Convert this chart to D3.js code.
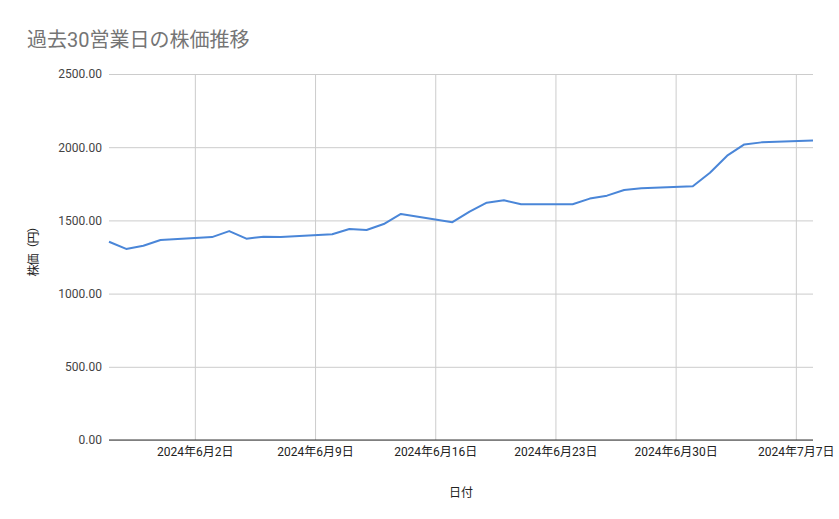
<!DOCTYPE html>
<html>
<head>
<meta charset="utf-8">
<script src="https://cdn.jsdelivr.net/npm/d3@7"></script>
<style>
  body { margin: 0; background: #fff; }
  text { font-family: Roboto, "Noto Sans CJK JP", sans-serif; }
</style>
</head>
<body>
<svg width="839" height="519"></svg>
<script>
//	data: 30 business days (weekdays only)
var dates = ["2024-05-28","2024-05-29","2024-05-30","2024-05-31",
	"2024-06-03","2024-06-04","2024-06-05","2024-06-06","2024-06-07",
	"2024-06-10","2024-06-11","2024-06-12","2024-06-13","2024-06-14",
	"2024-06-17","2024-06-18","2024-06-19","2024-06-20","2024-06-21",
	"2024-06-24","2024-06-25","2024-06-26","2024-06-27","2024-06-28",
	"2024-07-01","2024-07-02","2024-07-03","2024-07-04","2024-07-05",
	"2024-07-08"];
var prices = [1354, 1305, 1327, 1366,
	1386, 1427, 1375, 1389, 1386,
	1405, 1441, 1434, 1475, 1544,
	1488, 1560, 1621, 1637, 1610,
	1610, 1649, 1669, 1708, 1719,
	1733, 1826, 1942, 2019, 2033,
	2045];
var yTicks = [0, 500, 1000, 1500, 2000, 2500];
var xTickDates = ["2024-06-02","2024-06-09","2024-06-16","2024-06-23","2024-06-30","2024-07-07"];

var parseTime = d3.timeParse("%Y-%m-%d");
var data = dates.map(function(d, i) { return {date: parseTime(d), price: prices[i]}; });

var svg = d3.select("svg");
var margin = {top: 74, right: 26, bottom: 79, left: 109};
var width = svg.attr("width") - margin.left - margin.right,
	height = svg.attr("height") - margin.top - margin.bottom;
var g = svg.append("g").attr("transform", "translate(" + margin.left + "," + margin.top + ")");

var x = d3.scaleTime()
	.domain([parseTime("2024-05-28"), parseTime("2024-07-08")])
	.range([0, width]);
var y = d3.scaleLinear().domain([0, 2500]).range([height, 0]);

//	horizontal grid
g.append("g")
	.attr("class", "gridY")
	.call(d3.axisLeft(y).tickValues(yTicks).tickSize(-width).tickFormat(""))
	.call(function(s) {
		s.select(".domain").remove();
		s.selectAll("line").attr("stroke", "#cccccc");
	});

//	vertical grid
g.append("g")
	.attr("class", "gridX")
	.attr("transform", "translate(0," + height + ")")
	.call(d3.axisBottom(x).tickValues(xTickDates.map(parseTime)).tickSize(height).tickFormat(""))
	.call(function(s) {
		s.select(".domain").remove();
		s.selectAll("line").attr("stroke", "#cccccc").attr("y2", -height);
	});

//	y labels
g.append("g")
	.attr("class", "axisY")
	.call(d3.axisLeft(y).tickValues(yTicks).tickSize(0).tickPadding(7).tickFormat(d3.format(".2f")))
	.call(function(s) {
		s.select(".domain").remove();
		s.selectAll("text").attr("fill", "#444").style("font-size", "12px");
	});

//	x labels
var fmt = function(d) { return d.getFullYear() + "年" + (d.getMonth() + 1) + "月" + d.getDate() + "日"; };
g.append("g")
	.attr("class", "axisX")
	.attr("transform", "translate(0," + height + ")")
	.call(d3.axisBottom(x).tickValues(xTickDates.map(parseTime)).tickSize(0).tickPadding(7).tickFormat(fmt))
	.call(function(s) {
		s.select(".domain").remove();
		s.selectAll("text").attr("fill", "#222").style("font-size", "12px");
	});

//	baseline
g.append("line")
	.attr("x1", 0).attr("x2", width)
	.attr("y1", y(0)).attr("y2", y(0))
	.attr("stroke", "#333").attr("stroke-width", 1);

var line = d3.line()
	.x(function(d) { return x(d.date); })
	.y(function(d) { return y(d.price); });

g.append("path")
	.datum(data)
	.attr("fill", "none")
	.attr("stroke", "#4a86d8")
	.attr("stroke-width", 2)
	.attr("stroke-linejoin", "round")
	.attr("d", line);

//	titles
svg.append("text")
	.attr("x", 27).attr("y", 47)
	.attr("fill", "#757575")
	.style("font-size", "20px")
	.text("過去30営業日の株価推移");

svg.append("text")
	.attr("x", margin.left + width / 2).attr("y", 497)
	.attr("text-anchor", "middle")
	.attr("fill", "#222")
	.style("font-size", "12px")
	.text("日付");

svg.append("text")
	.attr("transform", "translate(38," + (margin.top + height / 2 - 8) + ") rotate(-90)")
	.attr("text-anchor", "middle")
	.attr("fill", "#222")
	.style("font-size", "12px")
	.style("letter-spacing", "-1px")
	.text("株価（円）");
</script>
</body>
</html>
